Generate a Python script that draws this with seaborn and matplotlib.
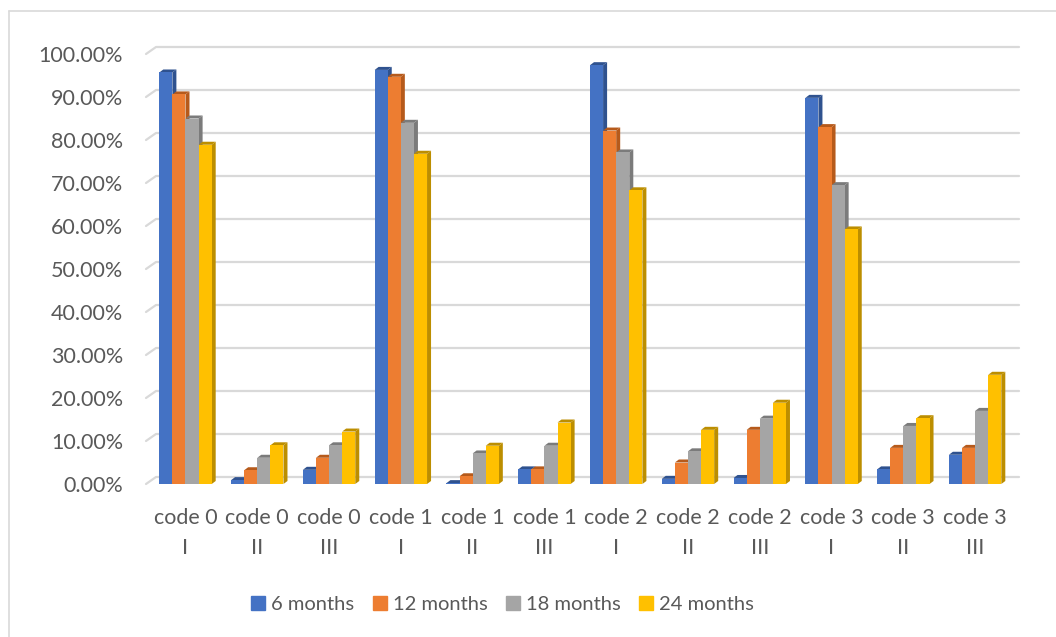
import numpy as np
import pandas as pd
import matplotlib
matplotlib.use("Agg")
import matplotlib.pyplot as plt
from matplotlib.lines import Line2D
from matplotlib.patches import Polygon
from matplotlib.ticker import FuncFormatter
import seaborn as sns

# ---------------- data ----------------
categories = ["code 0\nI", "code 0\nII", "code 0\nIII",
              "code 1\nI", "code 1\nII", "code 1\nIII",
              "code 2\nI", "code 2\nII", "code 2\nIII",
              "code 3\nI", "code 3\nII", "code 3\nIII"]
series_names = ["6 months", "12 months", "18 months", "24 months"]
m6 = [95.7, 0.9, 3.3, 96.3, 0.2, 3.4, 97.4, 1.2, 1.4, 89.8, 3.4, 6.8]
m12 = [90.6, 3.2, 6.1, 94.7, 1.8, 3.4, 82.2, 5.0, 12.6, 83.0, 8.4, 8.4]
m18 = [85.0, 6.1, 9.0, 84.0, 7.1, 8.9, 77.1, 7.6, 15.2, 69.5, 13.5, 17.0]
m24 = [78.9, 9.0, 12.2, 76.8, 8.9, 14.3, 68.3, 12.6, 18.9, 59.2, 15.3, 25.4]
yticks = [0.0, 0.1, 0.2, 0.3, 0.4, 0.5, 0.6, 0.7, 0.8, 0.9, 1.0]

colors = ["#4472C4", "#ED7D31", "#A5A5A5", "#FFC000"]
dark_colors = ["#2F528F", "#B65A1B", "#7B7B7B", "#BC8E00"]
text_color = "#595959"

rows = []
for name, vals in zip(series_names, [m6, m12, m18, m24]):
    for cat, v in zip(categories, vals):
        rows.append({"category": cat, "period": name, "value": v / 100.0})
df = pd.DataFrame(rows)

# ---------------- figure ----------------
sns.set_theme(style="white")
plt.rcParams["font.family"] = ["Lato", "DejaVu Sans"]

W, H = 1056, 637
fig = plt.figure(figsize=(W / 100, H / 100), dpi=100)
ax_left, ax_right = 149.6, 1011.0
ax_bottom_px, ax_top_px = 484.0, 54.0
ax = fig.add_axes([ax_left / W, 1 - ax_bottom_px / H,
                   (ax_right - ax_left) / W, (ax_bottom_px - ax_top_px) / H])

sns.barplot(data=df, x="category", y="value", hue="period",
            hue_order=series_names, order=categories, palette=colors,
            width=0.73, gap=0, saturation=1, linewidth=0, ax=ax,
            legend=False, errorbar=None, zorder=3)

ax.set_ylim(0, 1.0)
ax.set_xlim(-0.5, len(categories) - 0.5)
ax.set_yticks(yticks)
ax.yaxis.set_major_formatter(FuncFormatter(lambda v, p: f"{v * 100:.2f}%"))
ax.set_xlabel("")
ax.set_ylabel("")
for s in ax.spines.values():
    s.set_visible(False)
ax.grid(False)
ax.tick_params(axis="y", length=0, pad=19, labelsize=15.5, labelcolor=text_color)
ax.tick_params(axis="x", length=0, pad=17, labelsize=15.5, labelcolor=text_color)
for lbl in ax.get_xticklabels():
    lbl.set_linespacing(1.65)

fig.canvas.draw()

# ---- back-wall gridlines (3D look) ----
grid_color = "#D9D9D9"
for v in yticks:
    _, yf = ax.transData.transform((0, v))
    xs = [146, 156, 1019]
    ys = [yf, yf + 7, yf + 7]
    fig.add_artist(Line2D(xs, ys, transform=None, color=grid_color,
                          lw=1.6, zorder=0.5))

# ---- 3D side/top faces for the bars ----
dx, dy = 4.0, 3.0
n_cat = len(categories)
bar_patches = list(ax.patches)[:n_cat * len(series_names)]
for i, p in enumerate(bar_patches):
    k = i // n_cat
    x0, y0 = p.get_x(), p.get_y()
    x1, y1 = x0 + p.get_width(), y0 + p.get_height()
    (X0, Y0) = ax.transData.transform((x0, y0))
    (X1, Y1) = ax.transData.transform((x1, y1))
    side = [(X1, Y0), (X1 + dx, Y0 + dy), (X1 + dx, Y1 + dy), (X1, Y1)]
    top = [(X0, Y1), (X0 + dx, Y1 + dy), (X1 + dx, Y1 + dy), (X1, Y1)]
    for verts in (side, top):
        fig.add_artist(Polygon(verts, closed=True, transform=None,
                               facecolor=dark_colors[k], edgecolor="none",
                               zorder=1))
    fig.add_artist(p.__class__(p.get_xy(), p.get_width(), p.get_height(),
                               transform=ax.transData, facecolor=colors[k],
                               edgecolor="none", zorder=2))

# ---- legend ----
handles = [Line2D([], [], marker="s", linestyle="", color=c, markersize=9.5)
           for c in colors]
leg = fig.legend(handles, series_names, loc="center", ncol=4, frameon=False,
                 bbox_to_anchor=(502.5 / W, 1 - 604 / H), fontsize=14.5,
                 handlelength=0.7, handletextpad=0.3, columnspacing=0.9,
                 labelcolor=text_color)

# ---- chart border ----
fig.add_artist(Line2D([9, 9], [0, H - 11], transform=None, color=grid_color, lw=1.2))
fig.add_artist(Line2D([9, W], [H - 11, H - 11], transform=None, color=grid_color, lw=1.2))

fig.savefig("out.png", dpi=100, facecolor="white")
